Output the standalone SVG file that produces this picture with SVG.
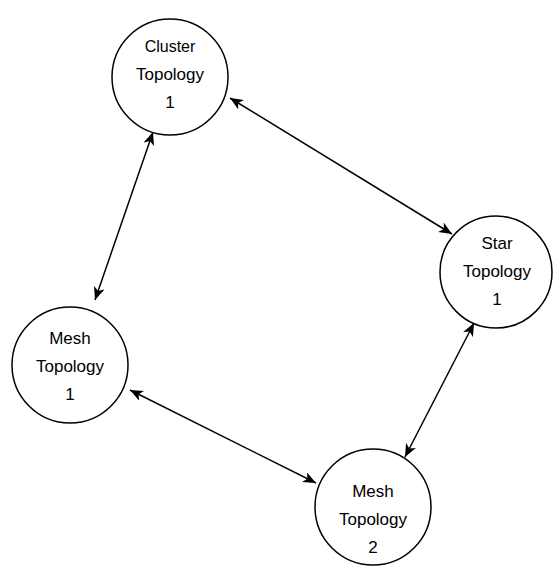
<svg xmlns="http://www.w3.org/2000/svg" width="556" height="575" viewBox="0 0 556 575">
  <style>
    .node circle { fill: #ffffff; stroke: #000000; stroke-width: 1.5; }
    .node text { font-family: "Liberation Sans", Arial, sans-serif; font-size: 17px; fill: #000000; text-anchor: middle; dominant-baseline: central; }
    .node text.small { font-size: 16px; }
    .edge { fill: none; stroke: #000000; stroke-width: 1.5; marker-start: url(#arr); marker-end: url(#arr); }
  </style>
  <defs>
    <marker id="arr" viewBox="0 0 13 11" refX="13" refY="5.5" markerWidth="13" markerHeight="11" markerUnits="userSpaceOnUse" orient="auto-start-reverse">
      <path d="M0,0 L13,5.5 L0,11 L3.5,5.5 Z" fill="#000000"/>
    </marker>
  </defs>
  <rect width="556" height="575" fill="#ffffff"/>
  <g id="connectors">
    <line class="edge" x1="230" y1="98" x2="452" y2="234"/>
    <line class="edge" x1="153" y1="132" x2="95" y2="300"/>
    <line class="edge" x1="130" y1="390" x2="316" y2="483"/>
    <line class="edge" x1="474" y1="323" x2="405" y2="457"/>
  </g>
  <g id="cluster1" class="node">
    <circle cx="170" cy="77" r="58"/>
    <text class="small" x="170" y="46">Cluster</text>
    <text x="170" y="74">Topology</text>
    <text x="170" y="102">1</text>
  </g>
  <g id="star1" class="node">
    <circle cx="496" cy="272" r="56"/>
    <text x="497" y="243">Star</text>
    <text x="497" y="271">Topology</text>
    <text x="497" y="299">1</text>
  </g>
  <g id="mesh1" class="node">
    <circle cx="70" cy="365" r="58"/>
    <text x="70" y="338">Mesh</text>
    <text x="70" y="366">Topology</text>
    <text x="70" y="394">1</text>
  </g>
  <g id="mesh2" class="node">
    <circle cx="373" cy="507" r="58"/>
    <text x="373" y="491">Mesh</text>
    <text x="373" y="519">Topology</text>
    <text x="373" y="547">2</text>
  </g>
</svg>
